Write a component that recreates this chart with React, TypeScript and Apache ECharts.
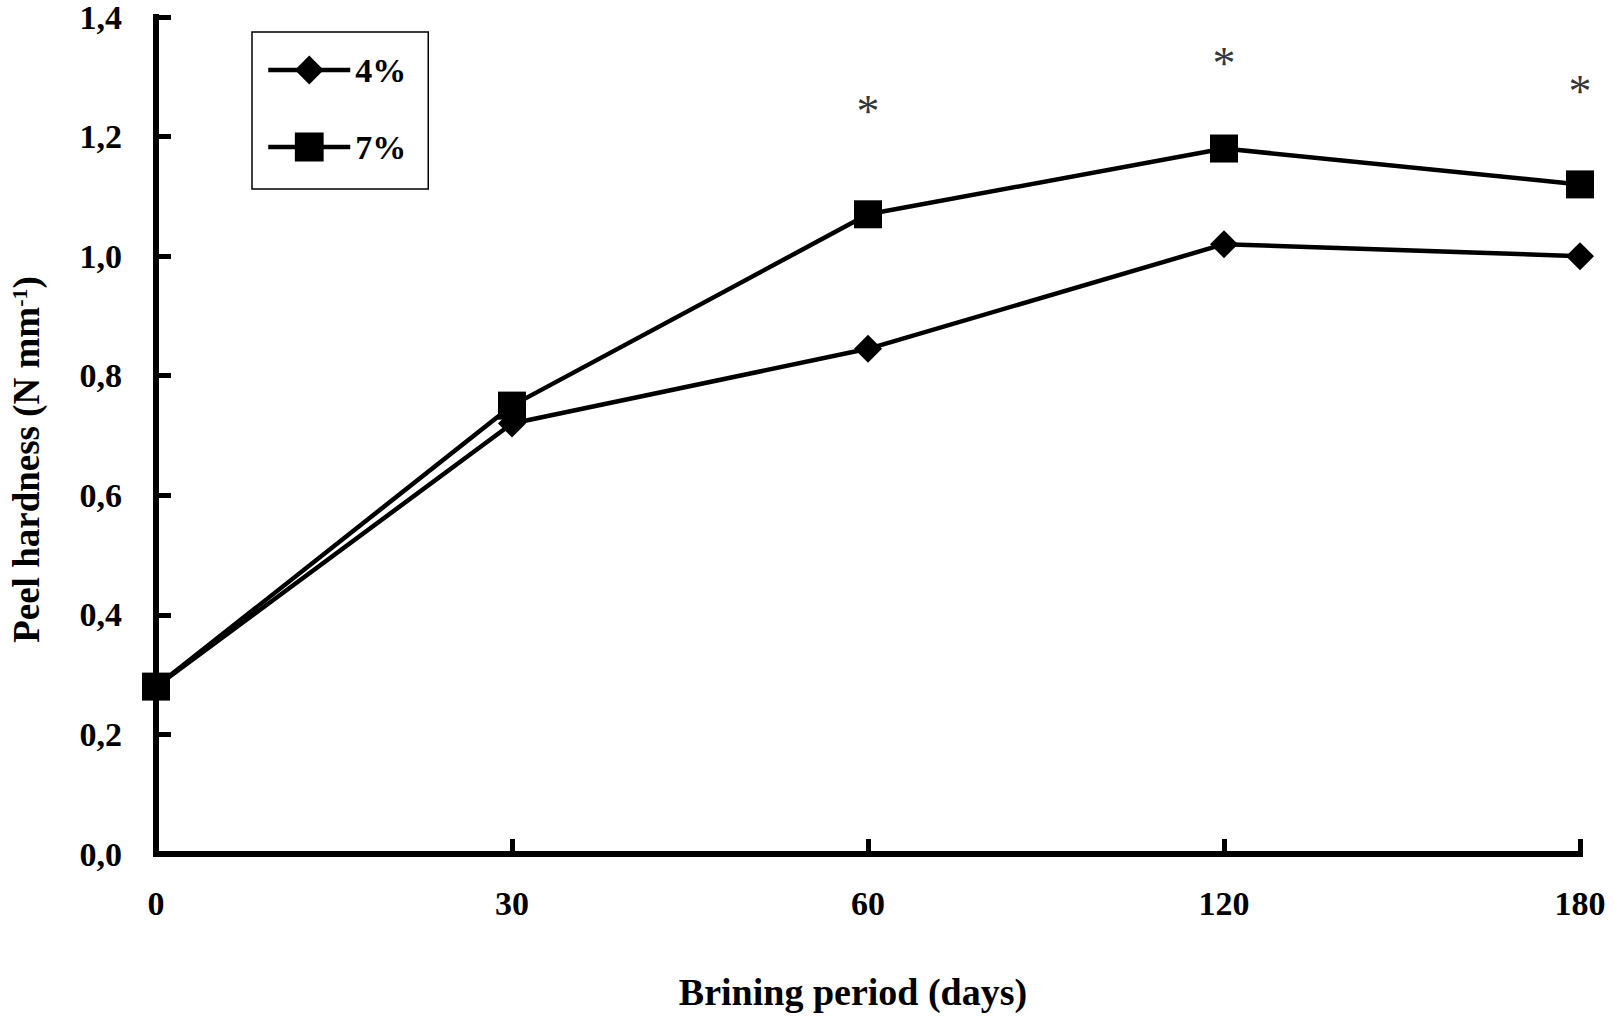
import { useEffect, useRef } from 'react'
import * as echarts from 'echarts'

// Brining period (days) vs peel hardness, two brine concentrations.
const DAYS = ['0', '30', '60', '120', '180']
const SALT_4 = [0.28, 0.72, 0.845, 1.02, 1.0]
const SALT_7 = [0.28, 0.75, 1.07, 1.18, 1.12]
// significance marks: [category index, height]
const STARS: [number, number][] = [
  [2, 1.246],
  [3, 1.326],
  [4, 1.279],
]
const Y_MIN = 0
const Y_MAX = 1.4
const Y_STEP = 0.2

const FONT = '"Liberation Serif", "Times New Roman", serif'
const INK = '#000'

export default function App() {
  const ref = useRef<HTMLDivElement>(null)

  useEffect(() => {
    const el = ref.current
    if (!el) return
    const chart = echarts.init(el, undefined, { renderer: 'svg' })
    chart.setOption(buildOption())
    return () => chart.dispose()
  }, [])

  return (
    <div
      ref={ref}
      style={{ position: 'fixed', left: 0, top: 0, width: 1614, height: 1027, background: '#fff' }}
    />
  )
}

function buildOption(): echarts.EChartsOption {
  const axisLine = { show: true, lineStyle: { color: INK, width: 6, cap: 'square' as const } }
  const axisTick = { show: true, inside: true, length: 15, lineStyle: { color: INK, width: 5 } }
  const tickLabel = { color: INK, fontFamily: FONT, fontWeight: 'bold' as const, fontSize: 34 }
  const title = { color: INK, fontFamily: FONT, fontWeight: 'bold' as const, fontSize: 38 }

  return {
    animation: false,
    backgroundColor: '#fff',
    textStyle: { fontFamily: FONT },
    grid: { left: 149, right: 34, top: 5, bottom: 173, containLabel: false },
    legend: {
      data: ['4%', '7%'],
      orient: 'vertical',
      left: 252,
      top: 32,
      padding: [20, 22, 24, 14],
      itemWidth: 82,
      itemHeight: 36,
      itemGap: 41,
      borderColor: INK,
      borderWidth: 1.5,
      backgroundColor: '#fff',
      lineStyle: { width: 4.5, color: INK },
      textStyle: { ...tickLabel, lineHeight: 36 },
    },
    xAxis: {
      type: 'category',
      data: DAYS,
      boundaryGap: false,
      axisLine,
      axisTick,
      axisLabel: { ...tickLabel, margin: 32 },
      splitLine: { show: false },
      name: 'Brining period (days)',
      nameLocation: 'middle',
      nameGap: 119,
      nameTextStyle: { ...title, padding: [0, 30, 0, 0] },
    },
    yAxis: {
      type: 'value',
      min: Y_MIN,
      max: Y_MAX,
      interval: Y_STEP,
      axisLine,
      axisTick,
      axisLabel: {
        ...tickLabel,
        margin: 34,
        padding: [12, 0, 0, 0],
        formatter: (v: number) => v.toFixed(1).replace('.', ','),
      },
      splitLine: { show: false },
      name: '{t|Peel hardness (N mm}{s|-1}{t|)}',
      nameLocation: 'middle',
      nameRotate: 90,
      nameGap: 111,
      nameTextStyle: {
        padding: [0, 48, 0, 0],
        rich: {
          t: { ...title, fontSize: 37 },
          s: { ...title, fontSize: 22, verticalAlign: 'top', lineHeight: 22, padding: [0, 0, 14, 0] },
        },
      },
    },
    series: [
      {
        name: '4%',
        type: 'line',
        data: SALT_4,
        symbol: 'diamond',
        symbolSize: 28,
        lineStyle: { color: INK, width: 4.5 },
        itemStyle: { color: INK },
        z: 2,
      },
      {
        name: '7%',
        type: 'line',
        data: SALT_7,
        symbol: 'rect',
        symbolSize: 28,
        lineStyle: { color: INK, width: 4.5 },
        itemStyle: { color: INK },
        z: 3,
      },
      {
        name: 'sig',
        type: 'scatter',
        data: STARS,
        symbolSize: 1,
        itemStyle: { color: 'transparent' },
        label: {
          show: true,
          position: 'inside',
          formatter: '*',
          color: INK,
          fontFamily: FONT,
          fontSize: 46,
          offset: [0, 2],
        },
        silent: true,
      },
    ],
  }
}
